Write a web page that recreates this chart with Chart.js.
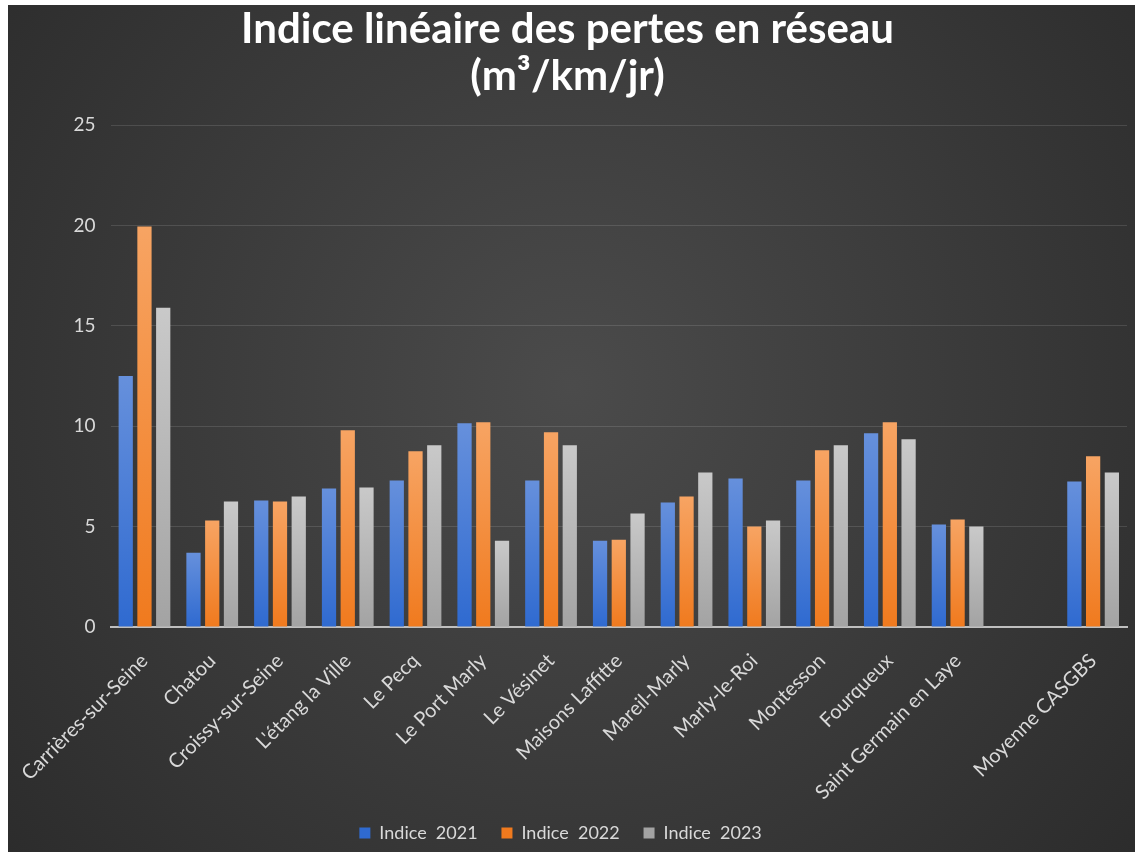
<!DOCTYPE html>
<html>
<head>
<meta charset="utf-8">
<script src="https://cdn.jsdelivr.net/npm/chart.js@4"></script>
<style>
  html, body { margin: 0; padding: 0; background: #ffffff; }
  #wrap { position: absolute; left: 8px; top: 5px; width: 1127px; height: 847px; }
</style>
</head>
<body>
<div id="wrap"><canvas id="chart"></canvas></div>
<script>
// Communes (empty slot before the average, as in the original sheet)
const communes = [
    "Carrières-sur-Seine", "Chatou", "Croissy-sur-Seine", "L'étang la Ville",
    "Le Pecq", "Le Port Marly", "Le Vésinet", "Maisons Laffitte",
    "Mareil-Marly", "Marly-le-Roi", "Montesson", "Fourqueux",
    "Saint Germain en Laye", "", "Moyenne CASGBS"
];

const indice2021 = [12.5, 3.7, 6.3, 6.9, 7.3, 10.15, 7.3, 4.3, 6.2, 7.4, 7.3, 9.65, 5.1, null, 7.25];
const indice2022 = [19.95, 5.3, 6.25, 9.8, 8.75, 10.2, 9.7, 4.35, 6.5, 5.0, 8.8, 10.2, 5.35, null, 8.5];
const indice2023 = [15.9, 6.25, 6.5, 6.95, 9.05, 4.3, 9.05, 5.65, 7.7, 5.3, 9.05, 9.35, 5.0, null, 7.7];

const yTicks = [0, 5, 10, 15, 20, 25];

// light top / dark bottom for each bar
function barGradient(top, bottom) {
    return function (ctx) {
        const chart = ctx.chart;
        if (!chart.chartArea || ctx.raw == null) return bottom;
        const y = chart.scales.y;
        const yTop = y.getPixelForValue(ctx.raw);
        const yBot = y.getPixelForValue(0);
        if (!isFinite(yTop) || yBot - yTop < 1) return bottom;
        const g = chart.ctx.createLinearGradient(0, yTop, 0, yBot);
        g.addColorStop(0, top);
        g.addColorStop(1, bottom);
        return g;
    };
}

// dark radial background
const background = {
    id: "background",
    beforeDraw(chart) {
        const c = chart.ctx;
        const w = chart.width, h = chart.height;
        const g = c.createRadialGradient(w * 0.5, h * 0.45, 0, w * 0.5, h * 0.45, Math.max(w, h) * 0.65);
        g.addColorStop(0, "#4b4b4b");
        g.addColorStop(1, "#2c2c2c");
        c.save();
        c.fillStyle = g;
        c.fillRect(0, 0, w, h);
        c.restore();
    }
};

Chart.defaults.font.family = "Lato, 'Open Sans', sans-serif";

new Chart(document.getElementById("chart"), {
    type: "bar",
    data: {
        labels: communes,
        datasets: [
            { label: "Indice  2021", data: indice2021, backgroundColor: barGradient("#6690dc", "#2f6ad0") },
            { label: "Indice  2022", data: indice2022, backgroundColor: barGradient("#f7a463", "#f07a1e") },
            { label: "Indice  2023", data: indice2023, backgroundColor: barGradient("#c9c9c9", "#a3a3a3") }
        ]
    },
    options: {
        responsive: true,
        maintainAspectRatio: false,
        animation: false,
        categoryPercentage: 0.83,
        barPercentage: 0.76,
        layout: { padding: { left: 0, right: 8, top: 0, bottom: 0 } },
        scales: {
            x: {
                grid: { display: false },
                border: { color: "#bfbfbf", width: 2 },
                afterFit(scale) { scale.height = 187; },
                ticks: {
                    color: "#d9d9d9",
                    font: { size: 20 },
                    minRotation: 45,
                    maxRotation: 45,
                    autoSkip: false,
                    padding: 14
                }
            },
            y: {
                min: 0,
                max: 25,
                afterBuildTicks(scale) {
                    scale.ticks = yTicks.map(v => ({ value: v }));
                },
                afterFit(scale) { scale.width = 95; },
                grid: { color: "rgba(255,255,255,0.12)", drawTicks: false },
                border: { display: false },
                ticks: {
                    color: "#d9d9d9",
                    font: { size: 19 },
                    padding: 15
                }
            }
        },
        plugins: {
            title: {
                display: true,
                text: ["Indice linéaire des pertes en réseau", "(m³/km/jr)"],
                color: "#ffffff",
                font: { size: 42, weight: "bold", lineHeight: 1.12 },
                padding: { top: 1, bottom: 25 }
            },
            legend: {
                position: "bottom",
                labels: {
                    color: "#d9d9d9",
                    font: { size: 18 },
                    boxWidth: 11,
                    boxHeight: 11,
                    padding: 10,
                    // wider gap between entries
                    generateLabels(chart) {
                        const items = Chart.defaults.plugins.legend.labels.generateLabels(chart);
                        items.forEach(item => { item.text += "   "; });
                        return items;
                    }
                }
            },
            tooltip: { enabled: false }
        }
    },
    plugins: [background]
});
</script>
</body>
</html>
